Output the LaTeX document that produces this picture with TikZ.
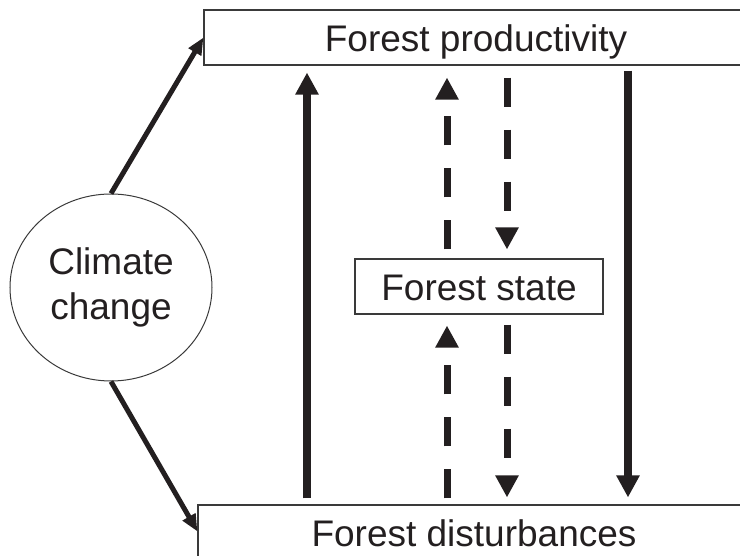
\documentclass[tikz,border=0pt]{standalone}
\usepackage{fontspec}
\setmainfont{Liberation Sans}
\usetikzlibrary{arrows.meta,shapes.geometric}
\definecolor{inkblack}{HTML}{231F20}
\definecolor{inkgray}{HTML}{3A3A3A}

\begin{document}
\begin{tikzpicture}[
  x=1pt, y=-1pt,
  font=\fontsize{37}{45}\selectfont,
  >={Triangle[length=22pt,width=22pt]},
  box/.style={draw=inkgray, line width=1.1pt, inner sep=0pt,
    text height=29pt, text depth=0pt, text=inkblack, fill=white},
  solidlink/.style={->, line width=8pt, draw=inkblack},
  dashlink/.style={->, line width=7pt, draw=inkblack,
    dash pattern=on 29pt off 23pt},
  climlink/.style={-{Triangle[length=17pt,width=14pt]}, line width=5pt,
    draw=inkblack}
]
\useasboundingbox (0,0) rectangle (740,556);
% Boxes and the driver
\node[box, minimum width=544pt, minimum height=55pt] (prod) at (476,37.5) {Forest productivity};
\node[box, minimum width=552pt, minimum height=53pt] (dist) at (474,531.5) {Forest disturbances};
\node[box, minimum width=248pt, minimum height=55pt] (state) at (479,286.5) {Forest state};
\node[ellipse, draw=inkgray, line width=1pt, inner sep=0pt, text=inkblack,
  minimum width=202pt, minimum height=187pt, align=center] (clim) at (111,287.5) {Climate\\change};

% Columns of the vertical links
\coordinate (colA) at (307,0);
\coordinate (colB) at (447,0);
\coordinate (colC) at (507,0);
\coordinate (colD) at (628,0);

\draw[climlink] (clim.north) -- (prod.west);
\draw[climlink] (clim.south) -- (dist.west);

\draw[solidlink, shorten <=6pt, shorten >=7pt] (dist.north -| colA) -- (prod.south -| colA);
\draw[solidlink, shorten <=5pt, shorten >=7pt] (prod.south -| colD) -- (dist.north -| colD);

\draw[dashlink, shorten <=9pt, shorten >=12pt] (state.north -| colB) -- (prod.south -| colB);
\draw[dashlink, shorten <=12pt, shorten >=9pt] (prod.south -| colC) -- (state.north -| colC);
\draw[dashlink, shorten <=6pt, shorten >=11pt] (dist.north -| colB) -- (state.south -| colB);
\draw[dashlink, shorten <=10pt, shorten >=7pt] (state.south -| colC) -- (dist.north -| colC);
\end{tikzpicture}
\end{document}
